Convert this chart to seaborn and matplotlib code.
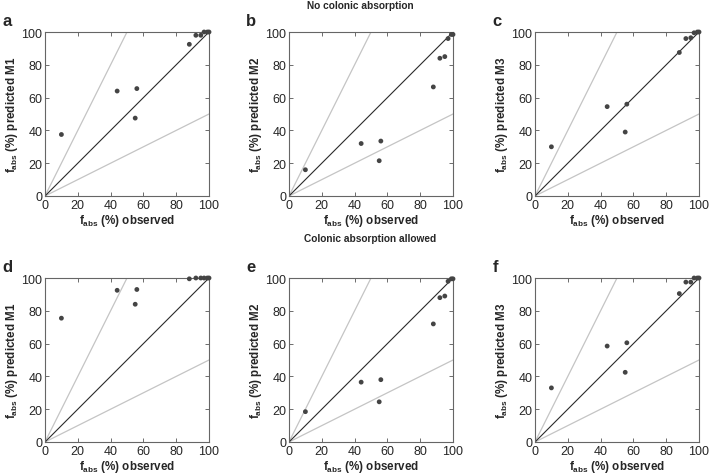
import matplotlib
matplotlib.use("Agg")
import matplotlib.pyplot as plt
import seaborn as sns
import pandas as pd

sns.set_theme(style="white")
plt.rcParams['font.family'] = ['Liberation Sans', 'DejaVu Sans']
plt.rcParams['mathtext.fontset'] = 'custom'
plt.rcParams['mathtext.rm'] = 'Liberation Sans'
plt.rcParams['mathtext.bf'] = 'Liberation Sans:bold'
plt.rcParams['mathtext.it'] = 'Liberation Sans:italic'

observed = [10, 44, 55, 56, 88, 92, 95, 97, 99, 100]
pred_a = [37.5, 64, 47.5, 65.5, 92.5, 98, 98, 100, 100, 100]
pred_b = [16, 32, 21.5, 33.5, 66.5, 84, 85, 96, 98.5, 98.5]
pred_c = [30, 54.5, 39, 56, 87.5, 96, 96.5, 99.5, 100, 100]
pred_d = [75.5, 92.5, 84, 93, 99.5, 100, 100, 100, 100, 100]
pred_e = [18.5, 36.5, 24.5, 38, 72, 88, 89, 98, 99.5, 99.5]
pred_f = [33, 58.5, 42.5, 60.5, 90.5, 97.5, 97.5, 100, 100, 100]

panel_letters = ['a', 'b', 'c', 'd', 'e', 'f']
model_names = ['M1', 'M2', 'M3', 'M1', 'M2', 'M3']
row_titles = ['No colonic absorption', 'Colonic absorption allowed']
ticks = [0, 20, 40, 60, 80, 100]
ref_x = [0, 50, 100]
ref_upper = [0, 100, 200]   # 2-fold over
ref_identity = [0, 50, 100]
ref_lower = [0, 25, 50]     # 2-fold under

preds = [pred_a, pred_b, pred_c, pred_d, pred_e, pred_f]

W, H = 709, 477
fig = plt.figure(figsize=(W / 100, H / 100), dpi=100)

lefts = [45, 289, 535]
tops = [33, 279]
aw, ah = 164, 164

for i, pred in enumerate(preds):
    r, c = divmod(i, 3)
    ax = fig.add_axes([lefts[c] / W, 1 - (tops[r] + ah) / H, aw / W, ah / H])
    df = pd.DataFrame({'obs': observed, 'pred': pred})
    sns.lineplot(x=ref_x, y=ref_upper, ax=ax, color='#c4c4c4', lw=0.9)
    sns.lineplot(x=ref_x, y=ref_lower, ax=ax, color='#c4c4c4', lw=0.9)
    sns.lineplot(x=ref_x, y=ref_identity, ax=ax, color='#2a2a2a', lw=0.8)
    sns.scatterplot(data=df, x='obs', y='pred', ax=ax, color='#444444', s=12,
                    edgecolor='none', zorder=5, clip_on=False)
    ax.set_xlim(0, 100)
    ax.set_ylim(0, 100)
    ax.set_xticks(ticks)
    ax.set_yticks(ticks)
    ax.tick_params(direction='in', length=3, width=0.6, top=True, right=True,
                   bottom=True, left=True, labelsize=9, pad=2, color='#555555')
    for sp in ax.spines.values():
        sp.set_color('#666666')
        sp.set_linewidth(0.8)
    ax.set_xlabel(r"$\mathbf{f_{abs}}$ (%) observed", fontsize=8.4, fontweight='bold', labelpad=1)
    ax.set_ylabel(r"$\mathbf{f_{abs}}$ (%) predicted " + model_names[i], fontsize=8.4,
                  fontweight='bold', labelpad=1)
    ax.text(-0.26, 1.025, panel_letters[i], transform=ax.transAxes, fontsize=12,
            fontweight='bold', va='bottom', ha='left')

fig.text(360 / W, 1 - 6 / H, row_titles[0], ha='center', va='center',
         fontsize=7.3, fontweight='bold')
fig.text(370 / W, 1 - 239 / H, row_titles[1], ha='center', va='center',
         fontsize=7.3, fontweight='bold')

fig.savefig('out.png', dpi=100)
